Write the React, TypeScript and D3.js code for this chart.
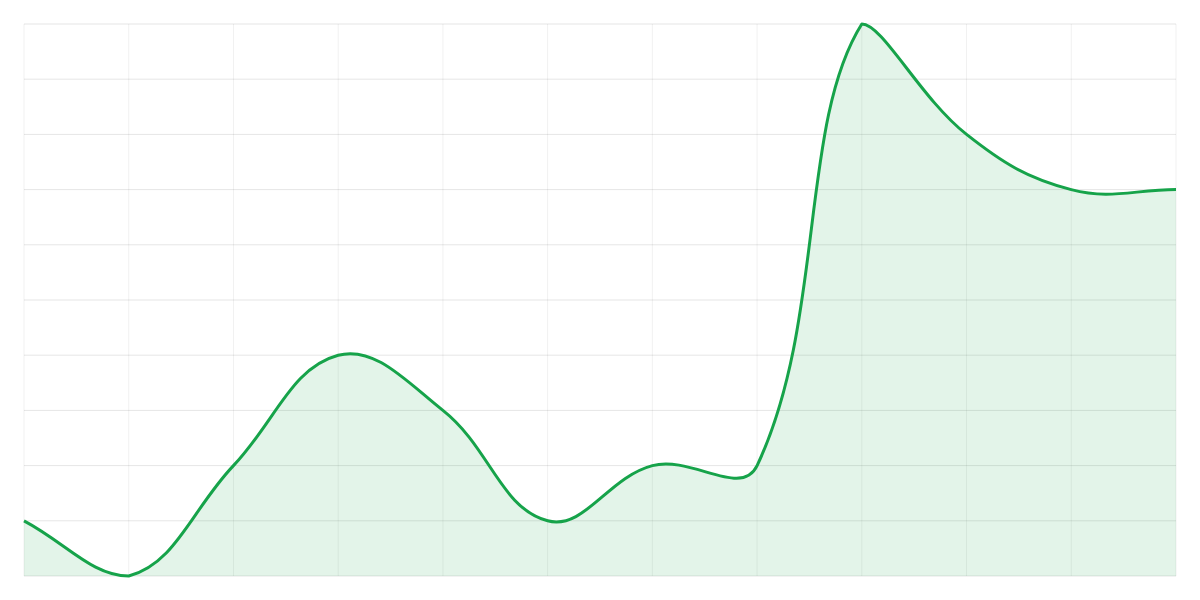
import { useEffect, useRef } from 'react';
import * as d3 from 'd3';

// values, one per vertical grid line
const labels = ['1', '2', '3', '4', '5', '6', '7', '8', '9', '10', '11', '12'];
const values = [1, 0, 2, 4, 3, 1, 2, 2, 10, 8, 7, 7];
const yTicks = [0, 1, 2, 3, 4, 5, 6, 7, 8, 9, 10];

const WIDTH = 1200;
const HEIGHT = 600;
const TENSION = 0.4;

type Pt = { x: number; y: number; cp1x: number; cp1y: number; cp2x: number; cp2y: number };

const App = () => {
  const svgRef = useRef<SVGSVGElement>(null);

  useEffect(() => {
    if (!svgRef.current) return;
    const svg = d3.select(svgRef.current);
    svg.selectAll('*').remove();

    const left = 24, right = 1176, top = 24, bottom = 576;

    const x = d3.scalePoint<string>().domain(labels).range([left, right]);
    const y = d3.scaleLinear().domain([0, 10]).range([bottom, top]);

    // vertical grid
    svg.append('g')
      .selectAll('line')
      .data(labels)
      .join('line')
      .attr('x1', d => x(d)!)
      .attr('x2', d => x(d)!)
      .attr('y1', top)
      .attr('y2', bottom)
      .attr('stroke', 'rgba(0,0,0,0.06)')
      .attr('stroke-width', 1);

    // horizontal grid
    svg.append('g')
      .selectAll('line')
      .data(yTicks)
      .join('line')
      .attr('x1', left)
      .attr('x2', right)
      .attr('y1', d => y(d))
      .attr('y2', d => y(d))
      .attr('stroke', 'rgba(0,0,0,0.1)')
      .attr('stroke-width', 1);

    // spline with capped control points (like a tension 0.4 line chart)
    const pts: Pt[] = values.map((v, i) => ({ x: x(labels[i])!, y: y(v), cp1x: 0, cp1y: 0, cp2x: 0, cp2y: 0 }));
    const cap = (v: number, lo: number, hi: number) => Math.max(Math.min(v, hi), lo);
    pts.forEach((p, i) => {
      const prev = pts[i - 1] || p;
      const next = pts[i + 1] || p;
      const d01 = Math.hypot(p.x - prev.x, p.y - prev.y);
      const d12 = Math.hypot(next.x - p.x, next.y - p.y);
      let s01 = d01 / (d01 + d12);
      let s12 = d12 / (d01 + d12);
      if (isNaN(s01)) s01 = 0;
      if (isNaN(s12)) s12 = 0;
      const fa = TENSION * s01;
      const fb = TENSION * s12;
      p.cp1x = cap(p.x - fa * (next.x - prev.x), left, right);
      p.cp1y = cap(p.y - fa * (next.y - prev.y), top, bottom);
      p.cp2x = cap(p.x + fb * (next.x - prev.x), left, right);
      p.cp2y = cap(p.y + fb * (next.y - prev.y), top, bottom);
    });

    const linePath = d3.path();
    linePath.moveTo(pts[0].x, pts[0].y);
    for (let i = 1; i < pts.length; i++) {
      const a = pts[i - 1];
      const b = pts[i];
      linePath.bezierCurveTo(a.cp2x, a.cp2y, b.cp1x, b.cp1y, b.x, b.y);
    }
    const lineD = linePath.toString();
    const areaD = `${lineD}L${pts[pts.length - 1].x},${bottom}L${pts[0].x},${bottom}Z`;

    svg.append('path')
      .attr('d', areaD)
      .attr('fill', 'rgba(22,163,74,0.12)');

    svg.append('path')
      .attr('d', lineD)
      .attr('fill', 'none')
      .attr('stroke', '#16a34a')
      .attr('stroke-width', 3)
      .attr('stroke-linejoin', 'round');
  }, []);

  return (
    <div style={{ position: 'absolute', left: 0, top: 0, width: WIDTH, height: HEIGHT, background: '#fff' }}>
      <svg ref={svgRef} width={WIDTH} height={HEIGHT} style={{ display: 'block' }}></svg>
    </div>
  );
};

export default App;
